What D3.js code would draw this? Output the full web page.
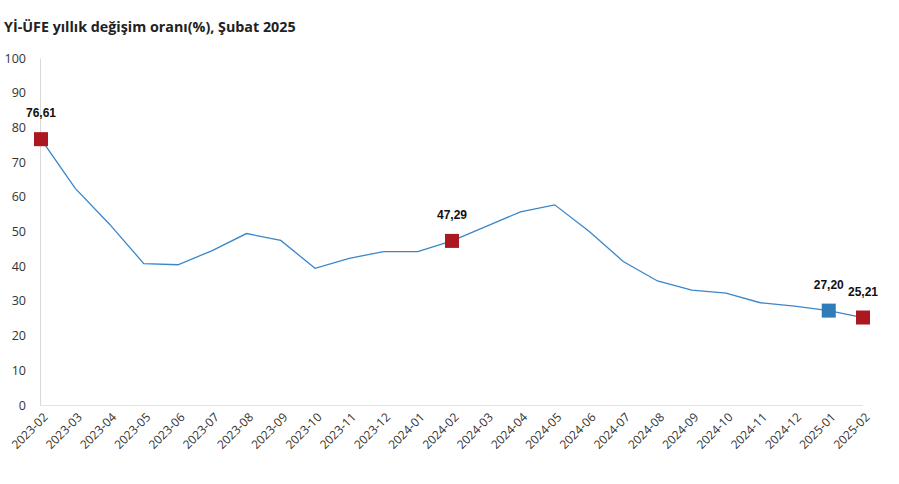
<!DOCTYPE html>
<html><head><meta charset="utf-8">
<script src="https://cdn.jsdelivr.net/npm/d3@7"></script>
<style>body{margin:0;background:#fff}svg{display:block}</style>
</head><body>
<svg id="c" width="899" height="484"></svg>
<script>
const months = ["2023-02","2023-03","2023-04","2023-05","2023-06","2023-07","2023-08","2023-09","2023-10","2023-11","2023-12","2024-01","2024-02","2024-03","2024-04","2024-05","2024-06","2024-07","2024-08","2024-09","2024-10","2024-11","2024-12","2025-01","2025-02"];
const values = [76.61,62.43,52.11,40.76,40.42,44.50,49.41,47.44,39.39,42.25,44.22,44.20,47.29,51.47,55.66,57.68,50.09,41.37,35.75,33.09,32.24,29.47,28.52,27.20,25.21];
const highlightRed = ["2023-02","2024-02","2025-02"];
const highlightBlue = ["2025-01"];
const yTicks = [0,10,20,30,40,50,60,70,80,90,100];
const title = "Yİ-ÜFE yıllık değişim oranı(%), Şubat 2025";

const svg = d3.select("#c");
const x = d3.scalePoint().domain(months).range([41,863]);
const y = d3.scaleLinear().domain([0,100]).range([405,58]);

svg.append("text").attr("x",4).attr("y",32).text(title)
  .attr("font-family","Open Sans").attr("font-weight","bold").attr("font-size",14.3).attr("fill","#222");

// y axis
const ya = svg.append("g").attr("transform","translate(40,0)").call(d3.axisLeft(y).tickValues(yTicks).tickSize(0).tickPadding(14));
ya.select(".domain").attr("stroke","#d9d9d9");
ya.selectAll("text").attr("font-family","Open Sans").attr("font-size",12.5).attr("fill","#333");

// x axis
const xa = svg.append("g").attr("transform","translate(0,405)").call(d3.axisBottom(x).tickSize(0).tickPadding(0));
xa.select(".domain").attr("stroke","#e3e3e3").attr("d","M40,0.5H863");
xa.selectAll("text").attr("font-family","Open Sans").attr("font-size",12).attr("fill","#333")
  .attr("text-anchor","end").attr("dy",null).attr("y",0)
  .attr("transform","translate(7,13) rotate(-45)");

const line = d3.line().x((d,i)=>x(months[i])).y(d=>y(d));
svg.append("path").datum(values).attr("d",line).attr("fill","none").attr("stroke","#3a86c8").attr("stroke-width",1.3);

const pts = months.map((m,i)=>({m,v:values[i]})).filter(d=>highlightRed.includes(d.m)||highlightBlue.includes(d.m));
svg.selectAll("rect.mk").data(pts).join("rect").attr("class","mk")
  .attr("x",d=>x(d.m)-7).attr("y",d=>y(d.v)-7).attr("width",14).attr("height",14)
  .attr("fill",d=>highlightBlue.includes(d.m)?"#2f7cbb":"#ac1820");
svg.selectAll("text.lb").data(pts).join("text").attr("class","lb")
  .attr("x",d=>x(d.m)).attr("y",d=>y(d.v)-22).attr("text-anchor","middle")
  .attr("font-family","Liberation Sans, Arial").attr("font-weight","bold").attr("font-size",12).attr("fill","#111")
  .text(d=>d.v.toFixed(2).replace(".",","));
</script>
</body></html>
